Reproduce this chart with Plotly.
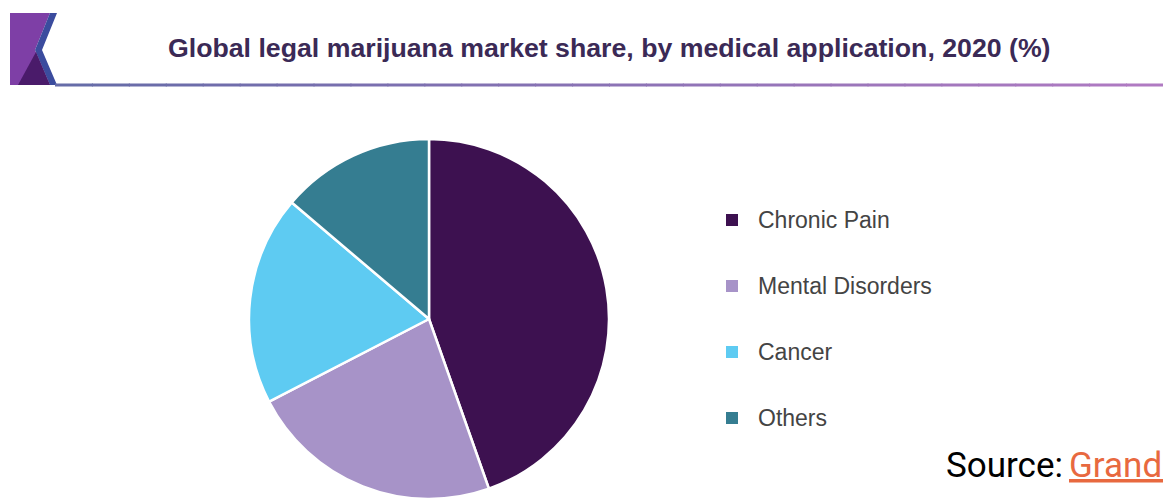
import plotly.graph_objects as go

categories = ["Chronic Pain", "Mental Disorders", "Cancer", "Others"]
shares = [44.6, 22.8, 18.8, 13.8]
colors = ["#3d1150", "#a793c8", "#5ecbf2", "#357d91"]

title_text = "Global legal marijuana market share, by medical application, 2020 (%)"
source_label = "Source:"
source_name = "Grand View Research"

W, H = 1163, 499

def px_x(x):
    return x / W

def px_y(y):
    return 1 - y / H

fig = go.Figure()
fig.add_trace(go.Pie(
    labels=categories,
    values=shares,
    marker=dict(colors=colors, line=dict(color="white", width=2.5)),
    sort=False,
    direction="clockwise",
    rotation=0,
    textinfo="none",
    hoverinfo="label+percent",
    showlegend=False,
    domain=dict(x=[px_x(248), px_x(610)], y=[0, px_y(139)]),
))

shapes = []
annotations = []

# logo
shapes.append(dict(type="path", xref="paper", yref="paper", line=dict(width=0),
                   fillcolor="#7e3fa6",
                   path=f"M {px_x(10)},{px_y(13)} L {px_x(50)},{px_y(13)} L {px_x(35)},{px_y(50)} L {px_x(50)},{px_y(85)} L {px_x(10)},{px_y(85)} Z"))
shapes.append(dict(type="path", xref="paper", yref="paper", line=dict(width=0),
                   fillcolor="#3b4c9e",
                   path=f"M {px_x(50)},{px_y(13)} L {px_x(57)},{px_y(13)} L {px_x(42)},{px_y(50)} L {px_x(57)},{px_y(85)} L {px_x(50)},{px_y(85)} L {px_x(35)},{px_y(50)} Z"))
shapes.append(dict(type="path", xref="paper", yref="paper", line=dict(width=0),
                   fillcolor="#4a1b6a",
                   path=f"M {px_x(18)},{px_y(85)} L {px_x(36)},{px_y(52)} L {px_x(50)},{px_y(85)} Z"))

# header rule with gradient
n_seg = 30
x0, x1 = 55, 1163
c0 = (0x66, 0x6c, 0xa8)
c1 = (0xb0, 0x7a, 0xc2)
for i in range(n_seg):
    t = i / (n_seg - 1)
    col = "rgb({},{},{})".format(*[int(a + (b - a) * t) for a, b in zip(c0, c1)])
    xa = x0 + (x1 - x0) * i / n_seg
    xb = x0 + (x1 - x0) * (i + 1) / n_seg + 1
    shapes.append(dict(type="line", xref="paper", yref="paper",
                       x0=px_x(xa), x1=px_x(xb), y0=px_y(85), y1=px_y(85),
                       line=dict(color=col, width=3)))

annotations.append(dict(text=f"<b>{title_text}</b>", xref="paper", yref="paper",
                        x=px_x(166), y=px_y(48), xanchor="left", yanchor="middle",
                        showarrow=False,
                        font=dict(family="Liberation Sans, Arial", size=26.7, color="#3b2a56")))

# legend
leg_y = [220, 286, 352, 418]
for cat, col, y in zip(categories, colors, leg_y):
    shapes.append(dict(type="rect", xref="paper", yref="paper",
                       x0=px_x(726), x1=px_x(738), y0=px_y(y - 6), y1=px_y(y + 6),
                       fillcolor=col, line=dict(width=0)))
    annotations.append(dict(text=cat, xref="paper", yref="paper",
                            x=px_x(756), y=px_y(y), xanchor="left", yanchor="middle",
                            showarrow=False,
                            font=dict(family="Liberation Sans, Arial", size=23, color="#444444")))

# source
annotations.append(dict(text=source_label, xref="paper", yref="paper",
                        x=px_x(944), y=px_y(465), xanchor="left", yanchor="middle",
                        showarrow=False,
                        font=dict(family="Roboto", size=35, color="#000000")))
annotations.append(dict(text=source_name, xref="paper", yref="paper",
                        x=px_x(1067), y=px_y(465), xanchor="left", yanchor="middle",
                        showarrow=False,
                        font=dict(family="Roboto", size=35, color="#e8693f", lineposition="under")))

fig.update_layout(
    width=W, height=H,
    margin=dict(l=0, r=0, t=0, b=0),
    paper_bgcolor="white",
    plot_bgcolor="white",
    shapes=shapes,
    annotations=annotations,
)

fig.write_html("out.html")
